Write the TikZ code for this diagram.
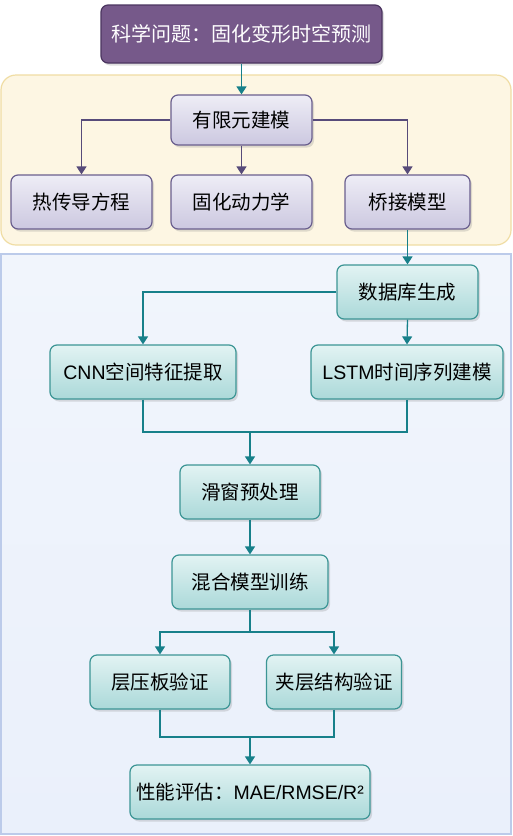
\documentclass[tikz,border=0pt]{standalone}
\usepackage{fontspec}
\setmainfont{Noto Sans CJK SC}
\newfontfamily\lat{Liberation Sans}
\usetikzlibrary{shadows,arrows.meta,calc}
\definecolor{titlefill}{HTML}{76598A}
\definecolor{titleedge}{HTML}{4B3560}
\definecolor{yelfill}{HTML}{FDF6E3}
\definecolor{yeledge}{HTML}{F0DDA4}
\definecolor{bluetop}{HTML}{F1F5FC}
\definecolor{bluebot}{HTML}{EAF0FB}
\definecolor{blueedge}{HTML}{BCCBEA}
\definecolor{lavtop}{HTML}{EEEDF6}
\definecolor{lavbot}{HTML}{CCC8E0}
\definecolor{lavedge}{HTML}{6A5F8E}
\definecolor{tealtop}{HTML}{E2F3F3}
\definecolor{tealbot}{HTML}{ABD9D9}
\definecolor{tealedge}{HTML}{3C9595}
\definecolor{tealarrow}{HTML}{17808A}
\definecolor{lavarrow}{HTML}{574B7A}
\begin{document}
\begin{tikzpicture}[x=1pt,y=-1pt,
  basebox/.style={rounded corners=7pt, line width=1.2pt, align=center, inner sep=0pt,
     drop shadow={shadow xshift=2pt,shadow yshift=-2.5pt,opacity=0.25}},
  lavbox/.style={basebox, draw=lavedge, top color=lavtop, bottom color=lavbot, font=\fontsize{19.5}{22}\selectfont, text=black},
  tealbox/.style={basebox, draw=tealedge, top color=tealtop, bottom color=tealbot, font=\fontsize{19.5}{22}\selectfont, text=black},
  titlebox/.style={basebox, draw=titleedge, fill=titlefill, text=white, font=\fontsize{20}{24}\selectfont},
  tarr/.style={draw=tealarrow, line width=1.3pt, -{Triangle[length=8pt,width=10pt]}},
  tline/.style={draw=tealarrow, line width=1.3pt},
  larr/.style={draw=lavarrow, line width=1.4pt, -{Triangle[length=8pt,width=10pt]}},
]
\useasboundingbox (0,0) rectangle (512,836);
\fill[white] (0,0) rectangle (512,836);
% panels
\draw[fill=yelfill, draw=yeledge, line width=1.2pt, rounded corners=15pt] (1,75) rectangle (511,245);
\draw[top color=bluetop, bottom color=bluebot, draw=blueedge, line width=1.2pt] (1,254) rectangle (511,834);
% nodes
\node[titlebox, minimum width=281pt, minimum height=58pt] (t) at (241.5,34) {科学问题：固化变形时空预测};
\node[lavbox, minimum width=141pt, minimum height=50pt] (fem) at (241.5,120) {有限元建模};
\node[lavbox, minimum width=141pt, minimum height=54pt] (heat) at (81.5,202) {热传导方程};
\node[lavbox, minimum width=141pt, minimum height=54pt] (cure) at (241.5,202) {固化动力学};
\node[lavbox, minimum width=125pt, minimum height=54pt] (bridge) at (407.5,202) {桥接模型};
\node[tealbox, minimum width=141pt, minimum height=54pt] (db) at (407.5,292) {数据库生成};
\node[tealbox, minimum width=186pt, minimum height=54pt] (cnn) at (143,372) {{\lat CNN}空间特征提取};
\node[tealbox, minimum width=192pt, minimum height=54pt] (lstm) at (407,372) {{\lat LSTM}时间序列建模};
\node[tealbox, minimum width=140pt, minimum height=54pt] (win) at (250,492) {滑窗预处理};
\node[tealbox, minimum width=156pt, minimum height=54pt] (hyb) at (250,582) {混合模型训练};
\node[tealbox, minimum width=140pt, minimum height=54pt] (lam) at (160,682) {层压板验证};
\node[tealbox, minimum width=135pt, minimum height=54pt] (sand) at (334,682) {夹层结构验证};
\node[tealbox, minimum width=240pt, minimum height=54pt] (perf) at (250,792) {性能评估：{\lat MAE/RMSE/R²}};
\coordinate (j1) at (250,432);
\coordinate (j2) at (250,632);
\coordinate (j3) at (250,737);
% connectors
\draw[tarr] (t.south) -- (fem.north);
\draw[larr] (fem.west) -| (heat.north);
\draw[larr] (fem.south) -- (cure.north);
\draw[larr] (fem.east) -| (bridge.north);
\draw[tarr] (bridge.south) -- (db.north);
\draw[tarr] (db.west) -| (cnn.north);
\draw[tarr] (db.south) -- (lstm.north);
\draw[tline] (cnn.south) |- (j1);
\draw[tline] (lstm.south) |- (j1);
\draw[tarr] (j1) -- (win.north);
\draw[tarr] (win.south) -- (hyb.north);
\draw[tline] (hyb.south) -- (j2);
\draw[tarr] (j2) -| (lam.north);
\draw[tarr] (j2) -| (sand.north);
\draw[tline] (lam.south) |- (j3);
\draw[tline] (sand.south) |- (j3);
\draw[tarr] (j3) -- (perf.north);
\end{tikzpicture}
\end{document}
